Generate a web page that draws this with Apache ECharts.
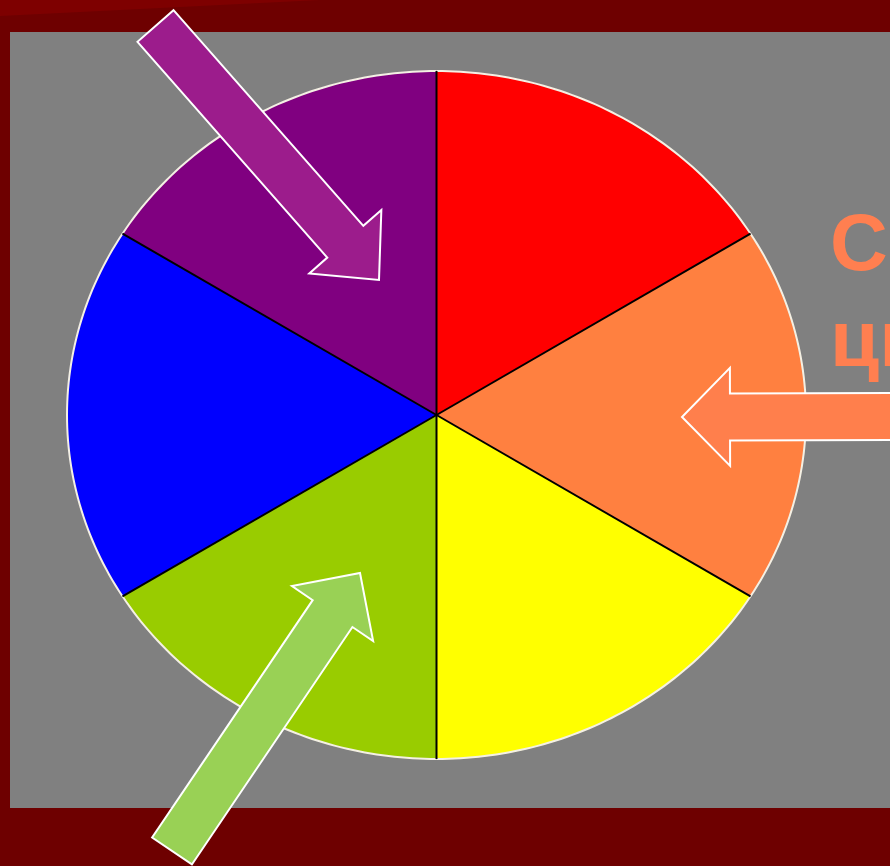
<!DOCTYPE html>
<html lang="ru">
<head>
<meta charset="UTF-8">
<title>Цветовой круг</title>
<script src="https://cdn.jsdelivr.net/npm/echarts@6/dist/echarts.min.js"></script>
<style>
  * { margin: 0; padding: 0; box-sizing: border-box; }
  body { background: #6e0000; }
  #chart { width: 890px; height: 866px; }
</style>
</head>
<body>
<div id="chart"></div>
<script>
// данные круга: шесть равных секторов, по часовой стрелке от верха
var names = ['Красный', 'Оранжевый', 'Жёлтый', 'Зелёный', 'Синий', 'Фиолетовый'];
var values = [1, 1, 1, 1, 1, 1];
var colors = ['#ff0000', '#ff8040', '#ffff00', '#99cc00', '#0000ff', '#800080'];
var titleLines = ['Составные', 'цвета'];

var total = values.reduce(function (a, b) { return a + b; }, 0);
var acc = 0;
var sectors = values.map(function (v, i) {
  var s = acc / total;
  acc += v;
  return { name: names[i], value: [s, acc / total], itemStyle: { color: colors[i] } };
});

// стрелка: хвост, острие, полуширина древка, полуширина головы, длина головы
function arrow(tail, tip, w, hw, hl) {
  var dx = tip[0] - tail[0], dy = tip[1] - tail[1];
  var len = Math.sqrt(dx * dx + dy * dy);
  var ux = dx / len, uy = dy / len, nx = -uy, ny = ux;
  var bx = tip[0] - ux * hl, by = tip[1] - uy * hl;
  return [
    [tail[0] + nx * w, tail[1] + ny * w],
    [bx + nx * w, by + ny * w],
    [bx + nx * hw, by + ny * hw],
    tip,
    [bx - nx * hw, by - ny * hw],
    [bx - nx * w, by - ny * w],
    [tail[0] - nx * w, tail[1] - ny * w]
  ];
}

// сектор эллипса: углы отсчитываются на экране, радиус берётся по эллипсу
function renderSector(params, api) {
  var a0 = (90 - 360 * api.value(0)) * Math.PI / 180;
  var a1 = (90 - 360 * api.value(1)) * Math.PI / 180;
  var c = api.coord([0, 0]);
  var rx = api.coord([1, 0])[0] - c[0];
  var ry = c[1] - api.coord([0, 1])[1];
  var arc = [];
  var n = 60;
  for (var k = 0; k <= n; k++) {
    var a = a0 + (a1 - a0) * k / n;
    var cs = Math.cos(a), sn = Math.sin(a);
    var r = 1 / Math.sqrt(cs * cs / (rx * rx) + sn * sn / (ry * ry));
    arc.push([c[0] + r * cs, c[1] - r * sn]);
  }
  var color = api.visual('color');
  return {
    type: 'group',
    children: [
      { type: 'polygon', shape: { points: [c].concat(arc) }, style: { fill: color, stroke: color, lineWidth: 0.5 } },
      { type: 'polyline', shape: { points: arc }, style: { stroke: '#f4f0e4', lineWidth: 2, fill: null }, z2: 5 },
      { type: 'line', shape: { x1: c[0], y1: c[1], x2: arc[0][0], y2: arc[0][1] }, style: { stroke: '#000', lineWidth: 2 }, z2: 6 }
    ]
  };
}

var chart = echarts.init(document.getElementById('chart'));
chart.setOption({
  backgroundColor: '#6e0000',
  animation: false,
  grid: { left: 67, top: 71, width: 739, height: 688 },
  xAxis: { type: 'value', min: -1, max: 1, show: false },
  yAxis: { type: 'value', min: -1, max: 1, show: false },
  graphic: [
    { type: 'polygon', z: -10, shape: { points: [[0, 0], [320, 0], [0, 16]] }, style: { fill: '#7e0000' } },
    { type: 'rect', z: -9, shape: { x: 10, y: 32, width: 880, height: 776 }, style: { fill: '#808080' } },
    {
      type: 'text', z: 100, left: 830, top: 200,
      style: {
        text: titleLines.join('\n'),
        fill: '#ff7f50',
        font: 'bold 80px "Liberation Sans", Arial, sans-serif',
        lineHeight: 96
      }
    },
    { type: 'polygon', z: 100, shape: { points: arrow([155.5, 26], [379, 280], 24, 48, 51) }, style: { fill: '#9c1c8c', stroke: '#fff', lineWidth: 2 } },
    { type: 'polygon', z: 100, shape: { points: arrow([905, 416.5], [682, 417], 23.5, 49, 48) }, style: { fill: '#ff7f4c', stroke: '#fff', lineWidth: 2 } },
    { type: 'polygon', z: 100, shape: { points: arrow([172, 851], [360, 573], 24, 49, 49) }, style: { fill: '#99d155', stroke: '#fff', lineWidth: 2 } }
  ],
  series: [{
    type: 'custom',
    clip: false,
    renderItem: renderSector,
    encode: { x: 0, y: 1 },
    data: sectors
  }]
});
</script>
</body>
</html>
